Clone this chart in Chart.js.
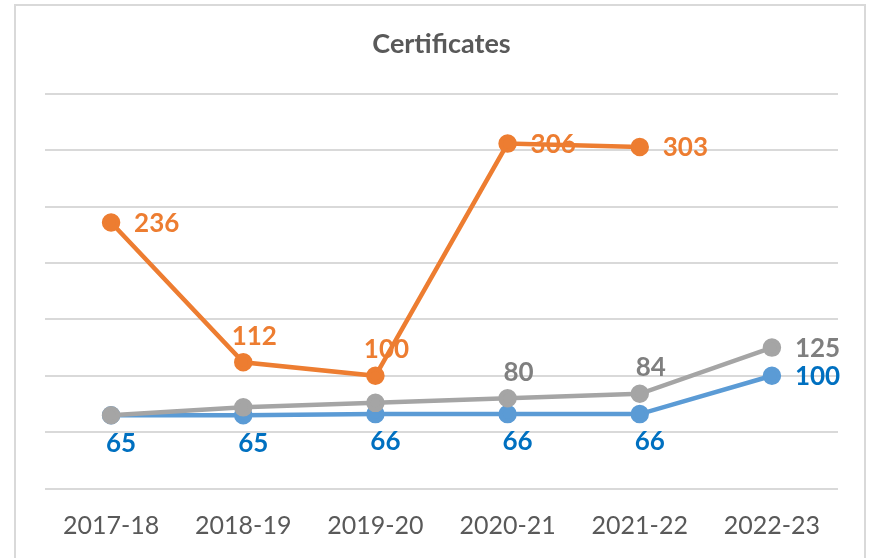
<!DOCTYPE html>
<html>
<head>
<meta charset="utf-8">
<script src="https://cdn.jsdelivr.net/npm/chart.js@4"></script>
<style>
  html, body { margin: 0; padding: 0; background: #fff; }
  #wrap { position: relative; width: 869px; height: 558px; }
  #frame { position: absolute; left: 14px; top: 4px; width: 852px; height: 570px; border: 2px solid #D9D9D9; box-sizing: border-box; }
  canvas { position: absolute; left: 0; top: 0; }
</style>
</head>
<body>
<div id="wrap">
  <div id="frame"></div>
  <canvas id="chart" width="869" height="558"></canvas>
</div>
<script>
const years = ['2017-18', '2018-19', '2019-20', '2020-21', '2021-22', '2022-23'];
const orangeVals = [236, 112, 100, 306, 303, null];
const grayVals = [65, 72, 76, 80, 84, 125];
const blueVals = [65, 65, 66, 66, 66, 100];

// where each value label sits (null = no label)
const orangePos = ['right', 'above', 'above', 'right', 'right', null];
const grayPos = [null, null, null, 'above', 'above', 'right'];
const bluePos = ['below', 'below', 'below', 'below', 'below', 'right'];

const FONT = 'Lato, "Open Sans", sans-serif';

// simple value labels, Excel style
const valueLabels = {
    id: 'valueLabels',
    afterDatasetsDraw(chart) {
        const ctx = chart.ctx;
        ctx.save();
        ctx.font = 'bold 26px ' + FONT;
        ctx.textBaseline = 'middle';
        chart.data.datasets.forEach((ds, i) => {
            const meta = chart.getDatasetMeta(i);
            meta.data.forEach((pt, j) => {
                const pos = ds.labelPos[j];
                if (!pos || ds.data[j] == null) return;
                const txt = String(ds.data[j]);
                ctx.fillStyle = ds.labelColor;
                if (pos === 'right') {
                    ctx.textAlign = 'left';
                    ctx.fillText(txt, pt.x + 23, pt.y + 1);
                } else if (pos === 'above') {
                    ctx.textAlign = 'center';
                    ctx.fillText(txt, pt.x + 11, pt.y - 26);
                } else {
                    ctx.textAlign = 'center';
                    ctx.fillText(txt, pt.x + 10, pt.y + 28);
                }
            });
        });
        ctx.restore();
    }
};

const chart = document.getElementById('chart');

new Chart(chart, {
    type: 'line',
    data: {
        labels: years,
        datasets: [
            {
                label: 'Series 2',
                data: orangeVals,
                borderColor: '#ED7D31',
                backgroundColor: '#ED7D31',
                borderWidth: 4.5,
                pointRadius: 7,
                pointHoverRadius: 7,
                labelColor: '#ED7D31',
                labelPos: orangePos
            },
            {
                label: 'Series 3',
                data: grayVals,
                borderColor: '#A5A5A5',
                backgroundColor: '#A5A5A5',
                borderWidth: 4.5,
                pointRadius: 7,
                pointHoverRadius: 7,
                labelColor: '#7F7F7F',
                labelPos: grayPos
            },
            {
                label: 'Series 1',
                data: blueVals,
                borderColor: '#5B9BD5',
                backgroundColor: '#5B9BD5',
                borderWidth: 4.5,
                pointRadius: 7,
                pointHoverRadius: 7,
                labelColor: '#0070C0',
                labelPos: bluePos
            }
        ]
    },
    options: {
        responsive: false,
        animation: false,
        layout: {
            padding: { top: 10, left: 45, right: 31, bottom: -4.5 }
        },
        plugins: {
            legend: { display: false },
            tooltip: { enabled: false },
            title: {
                display: true,
                text: 'Certificates',
                color: '#595959',
                font: { family: FONT, size: 27, weight: 'bold', lineHeight: 1.2 },
                padding: { top: 18, bottom: 33.6 }
            }
        },
        scales: {
            x: {
                offset: true,
                grid: { display: false, drawTicks: false },
                border: { display: false },
                ticks: {
                    color: '#595959',
                    font: { family: FONT, size: 25, lineHeight: 1.2 },
                    padding: 22,
                    maxRotation: 0
                }
            },
            y: {
                min: 0,
                max: 350,
                grid: { color: '#D9D9D9', lineWidth: 2, drawTicks: false },
                border: { display: false },
                ticks: { display: false, stepSize: 50 }
            }
        }
    },
    plugins: [valueLabels]
});
</script>
</body>
</html>
